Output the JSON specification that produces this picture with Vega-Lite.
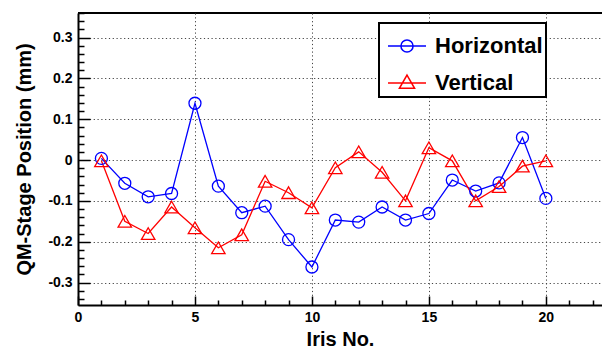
{
  "$schema": "https://vega.github.io/schema/vega-lite/v6.json",
  "width": 524,
  "height": 292,
  "autosize": {"type": "none"},
  "padding": {"left": 78, "top": 13, "right": 0, "bottom": 43},
  "background": "white",
  "config": {
    "view": {"stroke": "black", "strokeWidth": 2, "strokeDash": [524, 3000]},
    "font": "Liberation Sans",
    "legend": {"strokeWidth": 2}
  },
  "data": {
    "values": [
      {"iris": 1, "series": "Horizontal", "pos": 0.004},
      {"iris": 2, "series": "Horizontal", "pos": -0.057},
      {"iris": 3, "series": "Horizontal", "pos": -0.09},
      {"iris": 4, "series": "Horizontal", "pos": -0.082},
      {"iris": 5, "series": "Horizontal", "pos": 0.139},
      {"iris": 6, "series": "Horizontal", "pos": -0.064},
      {"iris": 7, "series": "Horizontal", "pos": -0.129},
      {"iris": 8, "series": "Horizontal", "pos": -0.113},
      {"iris": 9, "series": "Horizontal", "pos": -0.195},
      {"iris": 10, "series": "Horizontal", "pos": -0.262},
      {"iris": 11, "series": "Horizontal", "pos": -0.147},
      {"iris": 12, "series": "Horizontal", "pos": -0.152},
      {"iris": 13, "series": "Horizontal", "pos": -0.115},
      {"iris": 14, "series": "Horizontal", "pos": -0.147},
      {"iris": 15, "series": "Horizontal", "pos": -0.131},
      {"iris": 16, "series": "Horizontal", "pos": -0.049},
      {"iris": 17, "series": "Horizontal", "pos": -0.076},
      {"iris": 18, "series": "Horizontal", "pos": -0.056},
      {"iris": 19, "series": "Horizontal", "pos": 0.055},
      {"iris": 20, "series": "Horizontal", "pos": -0.094},
      {"iris": 1, "series": "Vertical", "pos": -0.002},
      {"iris": 2, "series": "Vertical", "pos": -0.15},
      {"iris": 3, "series": "Vertical", "pos": -0.18},
      {"iris": 4, "series": "Vertical", "pos": -0.115},
      {"iris": 5, "series": "Vertical", "pos": -0.166},
      {"iris": 6, "series": "Vertical", "pos": -0.215},
      {"iris": 7, "series": "Vertical", "pos": -0.183},
      {"iris": 8, "series": "Vertical", "pos": -0.052},
      {"iris": 9, "series": "Vertical", "pos": -0.08},
      {"iris": 10, "series": "Vertical", "pos": -0.117},
      {"iris": 11, "series": "Vertical", "pos": -0.019},
      {"iris": 12, "series": "Vertical", "pos": 0.02},
      {"iris": 13, "series": "Vertical", "pos": -0.03},
      {"iris": 14, "series": "Vertical", "pos": -0.1},
      {"iris": 15, "series": "Vertical", "pos": 0.03},
      {"iris": 16, "series": "Vertical", "pos": -0.002},
      {"iris": 17, "series": "Vertical", "pos": -0.1},
      {"iris": 18, "series": "Vertical", "pos": -0.065},
      {"iris": 19, "series": "Vertical", "pos": -0.015},
      {"iris": 20, "series": "Vertical", "pos": -0.002}
    ]
  },
  "encoding": {
    "x": {
      "field": "iris", "type": "quantitative",
      "scale": {"domain": [0, 22.4], "nice": false, "zero": false},
      "axis": {
        "orient": "bottom",
        "values": [0,1,2,3,4,5,6,7,8,9,10,11,12,13,14,15,16,17,18,19,20,21,22],
        "title": "Iris No.",
        "titleFontSize": 20, "titleFontWeight": "bold", "titleColor": "black", "titlePadding": 1,
        "labelExpr": "datum.value % 5 == 0 ? datum.label : ''",
        "labelFontSize": 14, "labelFontWeight": "bold", "labelColor": "black",
        "labelPadding": 14, "labelOverlap": false, "labelFlush": false,
        "tickSize": {"condition": {"test": "datum.value % 5 == 0", "value": -9}, "value": -5},
        "tickColor": "black", "tickWidth": 1.5,
        "domainColor": "black", "domainWidth": 2,
        "grid": true,
        "gridOpacity": {"condition": {"test": "datum.value % 5 == 0 && datum.value > 0", "value": 1}, "value": 0},
        "gridColor": "#444", "gridDash": [1.2, 2.6], "gridWidth": 1
      }
    },
    "y": {
      "field": "pos", "type": "quantitative",
      "scale": {"domain": [-0.355, 0.36], "nice": false, "zero": false},
      "axis": {
        "orient": "left",
        "values": [-0.34,-0.32,-0.3,-0.28,-0.26,-0.24,-0.22,-0.2,-0.18,-0.16,-0.14,-0.12,-0.1,-0.08,-0.06,-0.04,-0.02,0,0.02,0.04,0.06,0.08,0.1,0.12,0.14,0.16,0.18,0.2,0.22,0.24,0.26,0.28,0.3,0.32,0.34,0.36],
        "title": "QM-Stage Position (mm)",
        "titleFontSize": 20, "titleFontWeight": "bold", "titleColor": "black", "titlePadding": 13,
        "labelExpr": "abs(datum.value*10 - round(datum.value*10)) < 0.01 ? '' + round(datum.value*10)/10 : ''",
        "labelFontSize": 14, "labelFontWeight": "bold", "labelColor": "black",
        "labelPadding": 18, "labelOverlap": false, "labelFlush": false,
        "tickSize": {"condition": {"test": "abs(datum.value*10 - round(datum.value*10)) < 0.01", "value": -12}, "value": -6},
        "tickColor": "black", "tickWidth": 1.5,
        "domainColor": "black", "domainWidth": 2,
        "grid": true,
        "gridOpacity": {"condition": {"test": "abs(datum.value*10 - round(datum.value*10)) < 0.01 && abs(datum.value) < 0.35", "value": 1}, "value": 0},
        "gridColor": "#444", "gridDash": [1.2, 2.6], "gridWidth": 1
      }
    }
  },
  "layer": [
    {
      "mark": {"type": "line", "strokeWidth": 1.3},
      "encoding": {
        "stroke": {
          "field": "series", "type": "nominal",
          "scale": {"domain": ["Vertical", "Horizontal"], "range": ["#ff0000", "#0000ff"]},
          "legend": null
        }
      }
    },
    {
      "transform": [{"filter": "datum.series === 'Horizontal'"}],
      "mark": {"type": "point", "shape": "circle", "size": 144, "filled": false, "stroke": "#0000ff", "strokeWidth": 1.3, "opacity": 1}
    },
    {
      "transform": [{"filter": "datum.series === 'Vertical'"}],
      "mark": {"type": "point", "shape": "triangle-up", "size": 180, "filled": false, "stroke": "#ff0000", "strokeWidth": 1.3, "opacity": 1}
    },
    {
      "transform": [{"filter": "false"}],
      "mark": {"type": "point", "filled": false, "strokeWidth": 1.5, "opacity": 1},
      "encoding": {
        "color": {
          "field": "series", "type": "nominal",
          "scale": {"domain": ["Horizontal", "Vertical"], "range": ["#0000ff", "#ff0000"]},
          "legend": {
            "title": null, "orient": "none", "legendX": 301, "legendY": 10,
            "strokeColor": "black", "fillColor": "white", "padding": 3,
            "symbolOffset": 5, "symbolSize": 1444, "symbolStrokeWidth": 1.5, "symbolFillColor": "transparent",
            "labelFontSize": 22, "labelFontWeight": "bold", "labelColor": "black", "labelOffset": 8,
            "labelExpr": "datum.label + '\u00a0\u00a0\u00a0\u00a0\u00a0\u00a0\u00a0\u00a0\u00a0\u00a0\u00a0\u00a0'",
            "rowPadding": 6
          }
        },
        "shape": {
          "field": "series", "type": "nominal",
          "scale": {"domain": ["Horizontal", "Vertical"], "range": ["M-1,0H1M0.32,0A0.32,0.32 0 1,1 -0.32,0A0.32,0.32 0 1,1 0.32,0", "M-1,0H1M0,-0.42L0.4,0.28L-0.4,0.28Z"]},
          "legend": {
            "title": null, "orient": "none", "legendX": 301, "legendY": 10,
            "strokeColor": "black", "fillColor": "white", "padding": 3,
            "symbolOffset": 5, "symbolSize": 1444, "symbolStrokeWidth": 1.5, "symbolFillColor": "transparent",
            "labelFontSize": 22, "labelFontWeight": "bold", "labelColor": "black", "labelOffset": 8,
            "labelExpr": "datum.label + '\u00a0\u00a0\u00a0\u00a0\u00a0\u00a0\u00a0\u00a0\u00a0\u00a0\u00a0\u00a0'",
            "rowPadding": 6
          }
        }
      }
    }
  ]
}
